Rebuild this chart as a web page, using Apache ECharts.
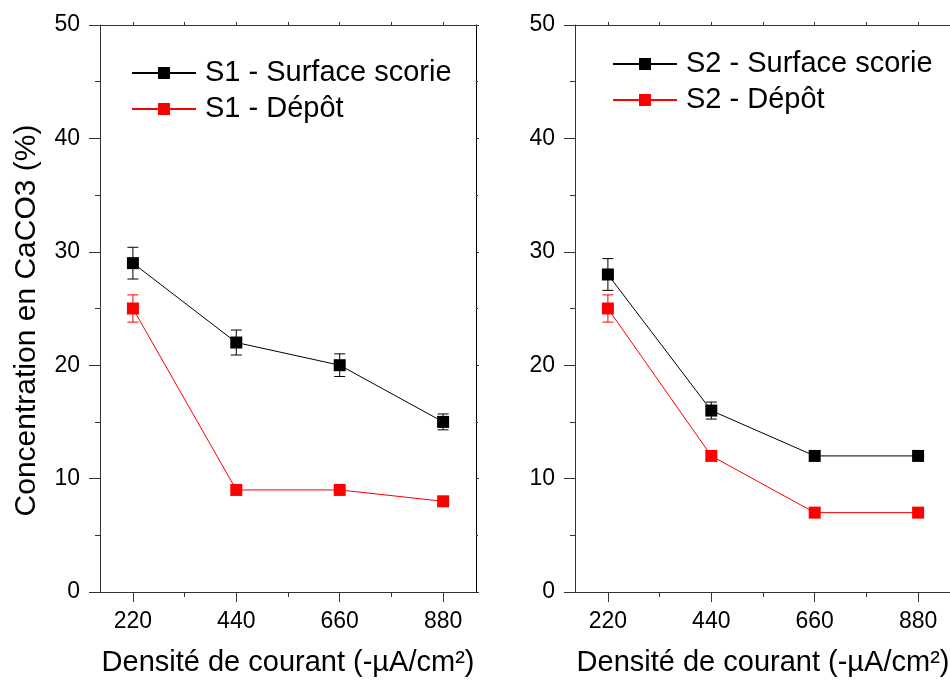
<!DOCTYPE html>
<html>
<head>
<meta charset="utf-8">
<script src="https://cdn.jsdelivr.net/npm/echarts@6/dist/echarts.min.js"></script>
<style>
  html, body { margin: 0; padding: 0; background: #fff; }
  #chart { width: 950px; height: 680px; }
</style>
</head>
<body>
<div id="chart"></div>
<script>
// ---- Data ----
const xValues = [220, 440, 660, 880];
const xTickLabels = [220, 440, 660, 880];
const xMinorTicks = [330, 550, 770];

const s1SurfaceName = 'S1 - Surface scorie';
const s1DepotName = 'S1 - Dépôt';
const s2SurfaceName = 'S2 - Surface scorie';
const s2DepotName = 'S2 - Dépôt';

const s1Surface = [29, 22, 20, 15];
const s1SurfaceErr = [1.4, 1.1, 1.0, 0.7];
const s1Depot = [25, 9, 9, 8];
const s1DepotErr = [1.2, 0, 0, 0];

const s2Surface = [28, 16, 12, 12];
const s2SurfaceErr = [1.4, 0.75, 0, 0];
const s2Depot = [25, 12, 7, 7];
const s2DepotErr = [1.2, 0, 0, 0];

const xTitle = 'Densité de courant (-µA/cm²)';
const yTitle = 'Concentration en CaCO3 (%)';

// ---- Styling ----
const FONT = '"Liberation Sans", Arial, Helvetica, sans-serif';
const AXIS_COLOR = '#333';
const BLACK = '#000000';
const RED = '#ff0000';

function pairs(ys) { return xValues.map((x, i) => [x, ys[i]]); }
function errData(ys, es) {
  return xValues.map((x, i) => [x, ys[i], es[i]]).filter(d => d[2] > 0);
}
function errRender(color) {
  return function (params, api) {
    const x = api.value(0), y = api.value(1), e = api.value(2);
    const top = api.coord([x, y + e]);
    const bot = api.coord([x, y - e]);
    const hw = 5.5;
    const style = { stroke: color, lineWidth: 1 };
    return {
      type: 'group',
      children: [
        { type: 'line', shape: { x1: top[0], y1: top[1], x2: bot[0], y2: bot[1] }, style },
        { type: 'line', shape: { x1: top[0] - hw, y1: top[1], x2: top[0] + hw, y2: top[1] }, style },
        { type: 'line', shape: { x1: bot[0] - hw, y1: bot[1], x2: bot[0] + hw, y2: bot[1] }, style }
      ]
    };
  };
}

function xAxesFor(gridIndex) {
  const base = { type: 'value', gridIndex, min: 150, max: 950, splitLine: { show: false } };
  return [
    Object.assign({}, base, {
      position: 'bottom',
      name: xTitle, nameLocation: 'middle', nameGap: 56,
      nameTextStyle: { fontSize: 29, fontFamily: FONT, color: BLACK },
      axisLine: { show: true, onZero: false, lineStyle: { color: AXIS_COLOR, width: 1 } },
      axisTick: { show: true, length: 10, customValues: xTickLabels, lineStyle: { color: AXIS_COLOR } },
      axisLabel: { show: true, margin: 18, fontSize: 23, fontFamily: FONT, color: BLACK, customValues: xTickLabels }
    }),
    Object.assign({}, base, {
      position: 'bottom',
      axisLine: { show: false },
      axisTick: { show: true, length: 5, customValues: xMinorTicks, lineStyle: { color: AXIS_COLOR } },
      axisLabel: { show: false }
    }),
    Object.assign({}, base, {
      position: 'top',
      axisLine: { show: true, onZero: false, lineStyle: { color: AXIS_COLOR, width: 1 } },
      axisTick: { show: true, length: 3, customValues: xTickLabels.concat(xMinorTicks), lineStyle: { color: AXIS_COLOR } },
      axisLabel: { show: false }
    })
  ];
}

function yAxesFor(gridIndex, withName) {
  const base = { type: 'value', gridIndex, min: 0, max: 50, interval: 10, splitLine: { show: false } };
  const left = Object.assign({}, base, {
    position: 'left',
    axisLine: { show: true, onZero: false, lineStyle: { color: AXIS_COLOR, width: 1 } },
    axisTick: { show: true, length: 11, lineStyle: { color: AXIS_COLOR } },
    minorTick: { show: true, splitNumber: 2, length: 5, lineStyle: { color: AXIS_COLOR } },
    axisLabel: { show: true, margin: 20, fontSize: 23, fontFamily: FONT, color: BLACK }
  });
  if (withName) {
    left.name = yTitle;
    left.nameLocation = 'middle';
    left.nameGap = 58;
    left.nameTextStyle = { fontSize: 30, fontFamily: FONT, color: BLACK, padding: [0, 24, 0, 0] };
  }
  const right = Object.assign({}, base, {
    position: 'right',
    axisLine: { show: true, onZero: false, lineStyle: { color: BLACK, width: 1 } },
    axisTick: { show: true, length: 3, lineStyle: { color: AXIS_COLOR } },
    minorTick: { show: true, splitNumber: 2, length: 2, lineStyle: { color: AXIS_COLOR } },
    axisLabel: { show: false }
  });
  return [left, right];
}

function lineSeries(name, ys, color, xAxisIndex, yAxisIndex) {
  return {
    name, type: 'line', xAxisIndex, yAxisIndex,
    data: pairs(ys),
    symbol: 'rect', symbolSize: 12,
    itemStyle: { color },
    lineStyle: { color, width: 1 },
    z: 3, animation: false
  };
}
function errSeries(ys, es, color, xAxisIndex, yAxisIndex) {
  return {
    type: 'custom', xAxisIndex, yAxisIndex,
    data: errData(ys, es),
    encode: { x: 0, y: 1 },
    renderItem: errRender(color),
    z: 2, animation: false, silent: true
  };
}

const legendCommon = {
  orient: 'vertical',
  itemWidth: 64, itemHeight: 15, itemGap: 6,
  padding: 0,
  textStyle: { fontSize: 29, fontFamily: FONT, color: BLACK, lineHeight: 30, padding: [0, 0, 0, 4] }
};

const option = {
  backgroundColor: '#ffffff',
  animation: false,
  grid: [
    { left: 100, top: 25, width: 376, height: 567, containLabel: false, outerBoundsMode: 'none' },
    { left: 575, top: 25, width: 376, height: 567, containLabel: false, outerBoundsMode: 'none' }
  ],
  legend: [
    Object.assign({}, legendCommon, { left: 131, top: 58, data: [s1SurfaceName, s1DepotName] }),
    Object.assign({}, legendCommon, { left: 612, top: 49, data: [s2SurfaceName, s2DepotName] })
  ],
  xAxis: xAxesFor(0).concat(xAxesFor(1)),
  yAxis: yAxesFor(0, true).concat(yAxesFor(1, false)),
  series: [
    errSeries(s1Surface, s1SurfaceErr, BLACK, 0, 0),
    errSeries(s1Depot, s1DepotErr, RED, 0, 0),
    lineSeries(s1SurfaceName, s1Surface, BLACK, 0, 0),
    lineSeries(s1DepotName, s1Depot, RED, 0, 0),
    errSeries(s2Surface, s2SurfaceErr, BLACK, 3, 2),
    errSeries(s2Depot, s2DepotErr, RED, 3, 2),
    lineSeries(s2SurfaceName, s2Surface, BLACK, 3, 2),
    lineSeries(s2DepotName, s2Depot, RED, 3, 2)
  ]
};

const chart = echarts.init(document.getElementById('chart'), null, { renderer: 'canvas' });
chart.setOption(option);
</script>
</body>
</html>
